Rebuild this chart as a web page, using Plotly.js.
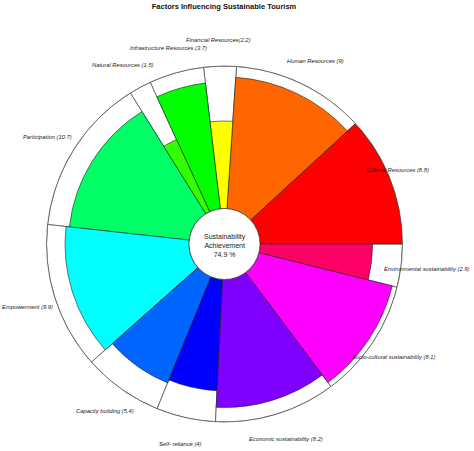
<!DOCTYPE html>
<html>
<head>
<meta charset="utf-8">
<script src="https://cdn.plot.ly/plotly-3.0.1.min.js"></script>
<style>
  html, body { margin: 0; padding: 0; background: #fff; }
  #chart { width: 474px; height: 451px; }
</style>
</head>
<body>
<div id="chart"></div>
<script>
// factors, counter-clockwise starting from 3 o'clock
const factors = [
    'Cultural Resources', 'Human Resources', 'Financial Resources',
    'Infrastructure Resources', 'Natural Resources', 'Participation',
    'Empowerment', 'Capacity building', 'Self- reliance',
    'Economic sustainability', 'Socio-cultural sustainability', 'Environmental sustainability'
];
const labelText = [
    'Cultural Resources (8.8)', 'Human Resources (9)', 'Financial Resources(2.2)',
    'Infrastructure Resources (3.7)', 'Natural Resources (1.5)', 'Participation (10.7)',
    'Empowerment (9.9)', 'Capacity building (5.4)', 'Self- reliance (4)',
    'Economic sustainability (8.2)', 'Socio-cultural sustainability (8.1)', 'Environmental sustainability (2.9)'
];
// weight of each factor -> wedge width
const weights = [8.8, 9, 2.2, 3.7, 1.5, 10.7, 9.9, 5.4, 4, 8.2, 8.1, 2.9];
// achievement of each factor -> wedge length (0-100)
const achievement = [100, 92.3, 61.4, 88.8, 55.8, 84.6, 87, 80.4, 78.2, 89.8, 96.5, 79];
const colors = [
    '#FF0000', '#FF6600', '#FFFF00', '#00FF00', '#33FF00', '#00FF66',
    '#00FFFF', '#0066FF', '#0000FF', '#8000FF', '#FF00FF', '#FF0066'
];
const overall = 74.9;

// label centres in pixels (x, y from top)
const labelPos = [
    [397, 170], [315, 61], [218, 40], [168, 48], [123, 65], [47, 137],
    [27, 307], [105, 411], [180, 444], [286, 439], [394, 357], [426, 269]
];

const W = 474, H = 451;
const cx = 224.5, cy = 244, R = 178;

// 角度计算
const total = weights.reduce((a, b) => a + b, 0);
const widths = weights.map(w => w / total * 360);
let acc = 0;
const thetas = widths.map(w => { const t = acc + w / 2; acc += w; return t; });

const bgTrace = {
    type: 'barpolar',
    r: factors.map(() => 100),
    theta: thetas,
    width: widths,
    marker: { color: '#ffffff', line: { color: '#555555', width: 0.8 } },
    hoverinfo: 'skip',
    showlegend: false
};

const barTrace = {
    type: 'barpolar',
    r: achievement,
    theta: thetas,
    width: widths,
    text: factors,
    marker: { color: colors, line: { color: '#222222', width: 0.6 } },
    hovertemplate: '%{text}: %{r}<extra></extra>',
    showlegend: false
};

const annotations = labelText.map((t, i) => ({
    x: labelPos[i][0] / W,
    y: 1 - labelPos[i][1] / H,
    xref: 'paper', yref: 'paper',
    xanchor: 'center', yanchor: 'middle',
    text: '<i>' + t + '</i>',
    showarrow: false,
    font: { family: 'Liberation Sans, Arial', size: 5.8, color: '#1a1a1a' }
}));

annotations.push({
    x: cx / W,
    y: 1 - 246 / H,
    xref: 'paper', yref: 'paper',
    xanchor: 'center', yanchor: 'middle',
    text: 'Sustainability<br>Achievement<br>' + overall + ' %',
    showarrow: false,
    align: 'center',
    font: { family: 'Liberation Sans, Arial', size: 7, color: '#222' }
});

const layout = {
    width: W,
    height: H,
    margin: { l: 0, r: 0, t: 0, b: 0 },
    paper_bgcolor: '#ffffff',
    title: {
        text: '<b>Factors Influencing Sustainable Tourism</b>',
        x: 224 / W,
        xanchor: 'center',
        y: 1 - 6 / H,
        yanchor: 'middle',
        font: { family: 'Liberation Sans, Arial', size: 7.5, color: '#111' }
    },
    polar: {
        domain: {
            x: [(cx - R) / W, (cx + R) / W],
            y: [(H - cy - R) / H, (H - cy + R) / H]
        },
        hole: 35.5 / R,
        barmode: 'overlay',
        bgcolor: '#ffffff',
        radialaxis: { visible: false, range: [0, 100] },
        angularaxis: {
            rotation: 0,
            direction: 'counterclockwise',
            showgrid: false,
            showticklabels: false,
            ticks: '',
            showline: true,
            linecolor: '#555555',
            linewidth: 0.8
        }
    },
    showlegend: false,
    annotations: annotations
};

Plotly.newPlot('chart', [bgTrace, barTrace], layout, { displayModeBar: false, staticPlot: true });
</script>
</body>
</html>
